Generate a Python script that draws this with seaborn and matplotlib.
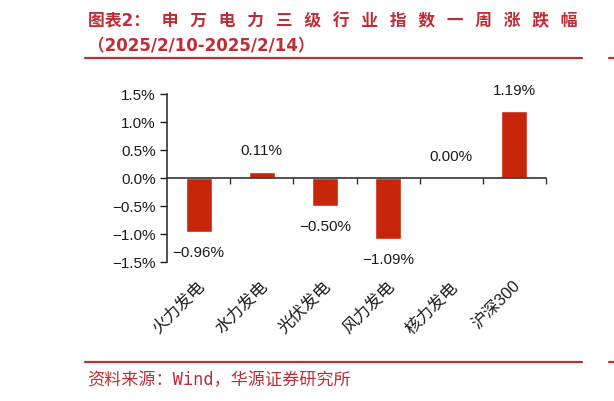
import numpy as np
import pandas as pd
import matplotlib
matplotlib.use("Agg")
import matplotlib.pyplot as plt
import matplotlib.transforms as mtransforms
from matplotlib.ticker import FuncFormatter
import seaborn as sns

categories = ["火力发电", "水力发电", "光伏发电", "风力发电", "核力发电", "沪深300"]
values = [-0.96, 0.11, -0.50, -1.09, 0.00, 1.19]
yticks = [-1.5, -1.0, -0.5, 0.0, 0.5, 1.0, 1.5]

title_text = "图表2：  " + "  ".join("申万电力三级行业指数一周涨跌幅")
subtitle_text = "（2025/2/10-2025/2/14）"
source_text = "资料来源：Wind，华源证券研究所"

BAR = "#C8260B"
RED = "#BE2E37"
INK = "#1c1c1c"

sns.set_theme(style="white")
plt.rcParams["font.family"] = ["Liberation Sans", "Noto Sans CJK SC", "DejaVu Sans"]
plt.rcParams["axes.unicode_minus"] = True

fig = plt.figure(figsize=(6.14, 4.01), dpi=100)
W, H = 614, 401
ax = fig.add_axes([167 / W, 1 - 262 / H, (546 - 167) / W, (262 - 94) / H])

df = pd.DataFrame({"cat": categories, "val": values})
sns.barplot(data=df, x="cat", y="val", color=BAR, saturation=1, width=0.41, ax=ax)

ax.set_xlim(-0.5, len(categories) - 0.5)
ax.set_ylim(yticks[0], yticks[-1])
ax.set_xlabel("")
ax.set_ylabel("")

# y axis
ax.set_yticks(yticks)
ax.yaxis.set_major_formatter(FuncFormatter(lambda v, p: f"{v:.1f}%".replace("-", "\u2212")))
ax.tick_params(axis="y", direction="out", length=5, width=1, color=INK, pad=3,
               labelsize=11, labelcolor=INK, left=True)

# x axis: spine at zero, ticks between categories
ax.spines["bottom"].set_position(("data", 0))
ax.spines["top"].set_visible(False)
ax.spines["right"].set_visible(False)
for s in ("left", "bottom"):
    ax.spines[s].set_color("#333333")
    ax.spines[s].set_linewidth(1.2)
ax.set_xticks(np.arange(len(categories)) + 0.5)
ax.set_xticklabels([])
ax.tick_params(axis="x", direction="out", length=4.5, width=1, color="#333333", bottom=True)

# category labels at the bottom
sec = ax.secondary_xaxis("bottom")
sec.set_xticks(np.arange(len(categories)))
sec.set_xticklabels(categories)
sec.spines["bottom"].set_visible(False)
sec.tick_params(axis="x", length=0, pad=12, labelsize=12, labelcolor=INK)
off = mtransforms.ScaledTranslation(-2 / 100, 0, fig.dpi_scale_trans)
for lab in sec.get_xticklabels():
    lab.set_rotation(45)
    lab.set_ha("right")
    lab.set_va("top")
    lab.set_rotation_mode("anchor")
    lab.set_transform(lab.get_transform() + off)

# value labels
for i, v in enumerate(values):
    txt = f"{v:.2f}%".replace("-", "\u2212")
    dy = 15 if v >= 0 else -15
    ax.annotate(txt, (i, v), xytext=(0, dy), textcoords="offset points",
                ha="center", va="center", fontsize=11, color=INK)

# header & footer
fig.text(88 / W, 1 - 21 / H, title_text, fontsize=12.1, fontweight="bold", color=RED,
         ha="left", va="center", family=["DejaVu Sans", "Noto Sans CJK SC"])
fig.text(88 / W, 1 - 46 / H, subtitle_text, fontsize=12, fontweight="bold", color=RED,
         ha="left", va="center", family=["DejaVu Sans", "Noto Sans CJK SC"])
fig.add_artist(plt.Line2D([85 / W, 582 / W], [1 - 58 / H, 1 - 58 / H], color=RED, lw=1.6))
fig.add_artist(plt.Line2D([609 / W, 1.0], [1 - 58 / H, 1 - 58 / H], color=RED, lw=1.6))
fig.add_artist(plt.Line2D([85 / W, 582 / W], [1 - 362 / H, 1 - 362 / H], color=RED, lw=1.6))
fig.add_artist(plt.Line2D([609 / W, 1.0], [1 - 362 / H, 1 - 362 / H], color=RED, lw=1.6))
fig.text(87 / W, 1 - 380 / H, source_text, fontsize=12.3, color=RED, ha="left", va="center",
         family=["DejaVu Sans Mono", "Noto Sans CJK SC"])

fig.savefig("out.png", dpi=100)
